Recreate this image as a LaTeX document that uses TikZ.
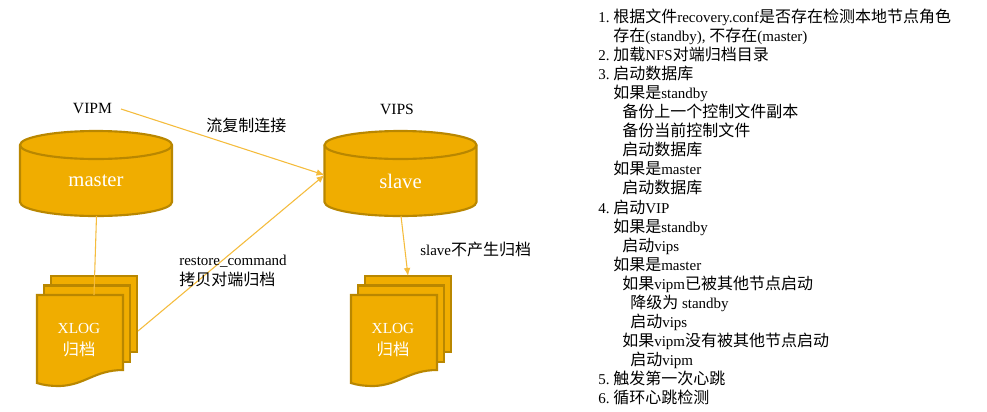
\documentclass[tikz,border=0pt]{standalone}
\usepackage{fontspec}
\setmainfont{Liberation Serif}
\newfontfamily\cjkf[Scale=1.067]{Noto Sans CJK SC}
\newcommand{\cj}[1]{{\cjkf #1}}
\usetikzlibrary{arrows.meta}
\definecolor{dbfill}{HTML}{F0AD00}
\definecolor{dbedge}{HTML}{B98700}
\definecolor{wire}{HTML}{F5BC3C}
\tikzset{
  dbtext/.style={inner sep=0pt,text=white,font=\fontsize{15.5pt}{16pt}\selectfont},
  page/.style={draw=dbedge,fill=dbfill,line width=1.6pt,line join=miter},
  doctext/.style={text=white,inner sep=0pt,align=center,font=\fontsize{11.5pt}{15pt}\selectfont},
  lab/.style={inner sep=0pt,anchor=base west,font=\fontsize{11.25pt}{14pt}\selectfont},
  vip/.style={inner sep=0pt,anchor=center,font=\fontsize{11.7pt}{14pt}\selectfont},
  li/.style={inner sep=0pt,anchor=base west,font=\fontsize{11.25pt}{14pt}\selectfont},
  wireline/.style={draw=wire,line width=0.8pt},
  wirearrow/.style={wireline,-{Latex[length=6pt,width=5pt]}}
}
\newcommand{\dbcyl}[3]{%
  \begin{scope}[xshift=#1*0.75pt]
    \draw[page] (20,145) arc[start angle=180,end angle=360,x radius=76,y radius=14]
       -- (172,202) arc[start angle=0,end angle=180,x radius=76,y radius=14] -- cycle;
    \draw[page] (20,145) arc[start angle=180,end angle=0,x radius=76,y radius=14];
    \coordinate (#2bot) at (96.5,216);
    \coordinate (#2west) at (20,175);
    \node[dbtext] (#2) at (96,181) {#3};
  \end{scope}}
\newcommand{\docstack}[3]{%
  \begin{scope}[xshift=#1*0.75pt]
    \draw[page] (51,276) rectangle (137,352);
    \draw[page] (44,285.5) rectangle (130,362);
    \draw[page] (37,295) -- (123,295) -- (123,370)
       .. controls (95,370) and (85,385) .. (60,386)
       .. controls (50,386) and (43,385) .. (37,383) -- cycle;
    \coordinate (#2top) at (94,295);
    \coordinate (#2back) at (94,276);
    \coordinate (#2right) at (138,331);
    \node[doctext] (#3) at (79,340) {XLOG\\[1pt]\cj{归档}};
  \end{scope}}
\begin{document}
\begin{tikzpicture}[x=0.75pt,y=-0.75pt]
\useasboundingbox (0,0) rectangle (987,411);
\fill[white] (0,0) rectangle (987,411);

\dbcyl{0}{master}{master}
\dbcyl{304.5}{slave}{slave}
\docstack{0}{ms}{mdoc}
\docstack{314}{sl}{sdoc}

\node[vip] (vipm) at (92.5,109) {VIPM};
\node[vip] (vips) at (397,109) {VIPS};

\coordinate (vipmout) at (121,109);
\draw[wirearrow] (vipmout) -- (slavewest);
\draw[wirearrow] (msright) -- (slavewest);
\draw[wireline] (masterbot) -- (mstop);
\draw[wirearrow] (slavebot) -- (slback);

\node[lab] (l1) at (206,131.5) {\cj{流复制连接}};
\node[lab] (l2) at (179,265) {restore\_command};
\node[lab] (l3) at (179,285.5) {\cj{拷贝对端归档}};
\node[lab] (l4) at (420,255) {slave\cj{不产生归档}};

\node[li] (a1) at (598,22) {1.};
\node[li] (t1) at (613,22) {\cj{根据文件}recovery.conf\cj{是否存在检测本地节点角色}};
\node[li] (t2) at (613,41) {\cj{存在}(standby), \cj{不存在}(master)};
\node[li] (a2) at (598,60) {2.};
\node[li] (t3) at (613,60) {\cj{加载}NFS\cj{对端归档目录}};
\node[li] (a3) at (598,79) {3.};
\node[li] (t4) at (613,79) {\cj{启动数据库}};
\node[li] (t5) at (613,98) {\cj{如果是}standby};
\node[li] (t6) at (622,117) {\cj{备份上一个控制文件副本}};
\node[li] (t7) at (622,136) {\cj{备份当前控制文件}};
\node[li] (t8) at (622,155) {\cj{启动数据库}};
\node[li] (t9) at (613,174) {\cj{如果是}master};
\node[li] (t10) at (622,193) {\cj{启动数据库}};
\node[li] (a4) at (598,213) {4.};
\node[li] (t11) at (613,213) {\cj{启动}VIP};
\node[li] (t12) at (613,232) {\cj{如果是}standby};
\node[li] (t13) at (622,251) {\cj{启动}vips};
\node[li] (t14) at (613,270) {\cj{如果是}master};
\node[li] (t15) at (622,289) {\cj{如果}vipm\cj{已被其他节点启动}};
\node[li] (t16) at (630,308) {\cj{降级为} standby};
\node[li] (t17) at (630,327) {\cj{启动}vips};
\node[li] (t18) at (622,346) {\cj{如果}vipm\cj{没有被其他节点启动}};
\node[li] (t19) at (630,365) {\cj{启动}vipm};
\node[li] (a5) at (598,384) {5.};
\node[li] (t20) at (613,384) {\cj{触发第一次心跳}};
\node[li] (a6) at (598,403) {6.};
\node[li] (t21) at (613,403) {\cj{循环心跳检测}};
\end{tikzpicture}
\end{document}
